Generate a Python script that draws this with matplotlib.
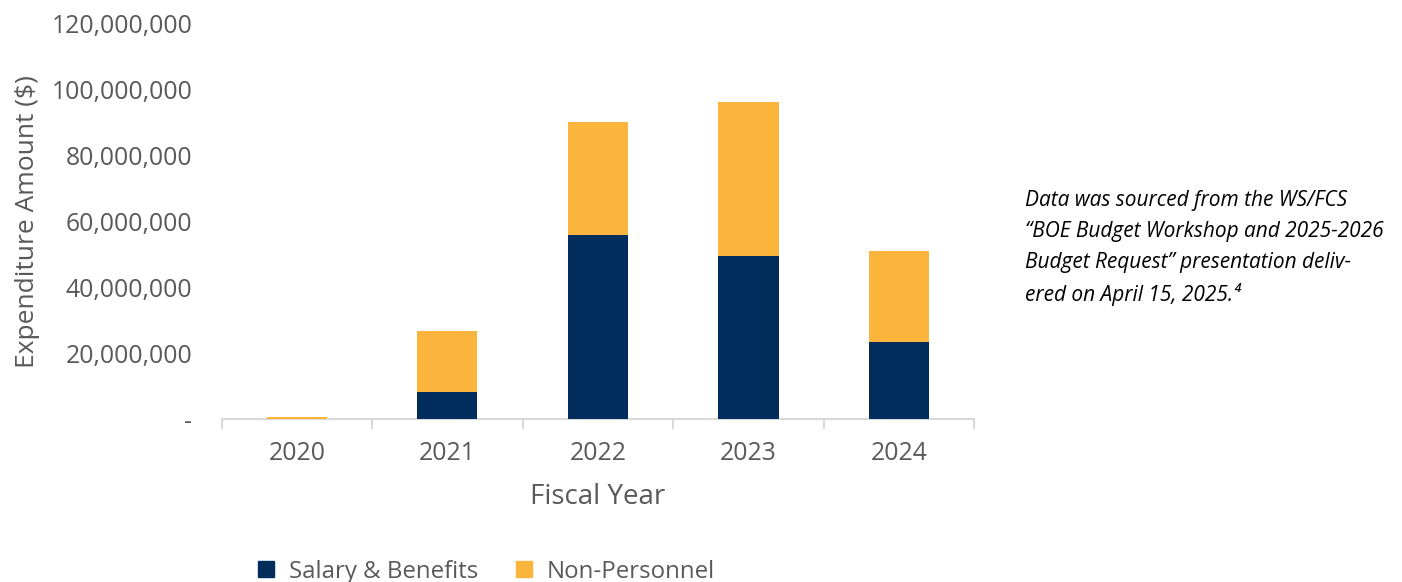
import matplotlib.pyplot as plt
from matplotlib.patches import Patch
from matplotlib.ticker import FuncFormatter, FixedLocator

years = ["2020", "2021", "2022", "2023", "2024"]
salary_benefits = [0, 8_200_000, 55_800_000, 49_400_000, 23_300_000]
non_personnel = [500_000, 18_500_000, 34_300_000, 46_700_000, 27_600_000]

NAVY = "#002D5C"
GOLD = "#FBB43C"
GREY = "#595959"

plt.rcParams['font.family'] = ['Open Sans', 'DejaVu Sans']

fig = plt.figure(figsize=(14.02, 5.82), dpi=100)
ax = fig.add_axes([0.158, 0.28, 0.537, 0.68])

x = list(range(len(years)))
ax.bar(x, salary_benefits, width=0.4, color=NAVY, label="Salary & Benefits", zorder=3)
ax.bar(x, non_personnel, width=0.4, bottom=salary_benefits, color=GOLD,
       label="Non-Personnel", zorder=3)

ax.set_xlim(-0.5, len(years) - 0.5)
ax.set_ylim(0, 120_000_000)
ax.set_yticks(range(0, 120_000_001, 20_000_000))
ax.yaxis.set_major_formatter(FuncFormatter(lambda v, p: "-" if v == 0 else f"{v:,.0f}"))
ax.set_xticks(x)
ax.set_xticklabels(years)
# category separators drawn as minor ticks under the baseline
ax.xaxis.set_minor_locator(FixedLocator([i - 0.5 for i in range(len(years) + 1)]))

for side in ["top", "right", "left"]:
    ax.spines[side].set_visible(False)
ax.spines["bottom"].set_color("#d9d9d9")
ax.spines["bottom"].set_linewidth(1.5)
ax.spines["bottom"].set_zorder(2)

ax.tick_params(axis="y", length=0, labelsize=17.8, labelcolor=GREY, pad=21)
ax.tick_params(axis="x", which="major", length=0, labelsize=17.8, labelcolor=GREY, pad=16)
ax.tick_params(axis="x", which="minor", length=7, width=1.5, color="#d9d9d9")

ax.set_xlabel("Fiscal Year", fontsize=20, color=GREY, labelpad=12)
ax.set_ylabel("Expenditure Amount ($)", fontsize=19, color=GREY, labelpad=8)

handles = [Patch(color=NAVY, label="Salary & Benefits"),
           Patch(color=GOLD, label="Non-Personnel")]
leg = fig.legend(handles=handles, loc="lower center", bbox_to_anchor=(0.347, -0.04),
                 ncol=2, frameon=False, fontsize=17.3, handlelength=0.65,
                 handleheight=0.65, columnspacing=1.6, handletextpad=0.6)
for t in leg.get_texts():
    t.set_color(GREY)

fig.text(0.731, 0.673,
         "Data was sourced from the WS/FCS\n"
         "\u201cBOE Budget Workshop and 2025-2026\n"
         "Budget Request\u201d presentation deliv-\n"
         "ered on April 15, 2025.\u2074",
         fontsize=15, style="italic", color="black", va="top", ha="left",
         linespacing=1.6)

fig.savefig("out.png", dpi=100)
